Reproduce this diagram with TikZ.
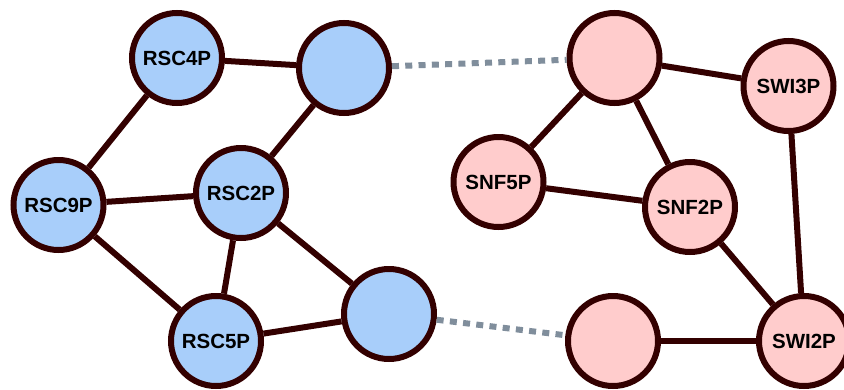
\documentclass[tikz,border=0pt]{standalone}
\usepackage{fontspec}
\setmainfont{Liberation Sans}
\begin{document}
\begin{tikzpicture}[x=1pt,y=-1pt,
  prot/.style={circle,draw=edgecol,line width=6pt,minimum size=90pt,inner sep=0pt,
    font=\fontsize{20.5}{24}\selectfont\bfseries,text=black},
  rsc/.style={prot,fill=rscfill},
  swi/.style={prot,fill=swifill},
  bond/.style={draw=edgecol,line width=6pt},
  link/.style={draw=linkcol,line width=6pt,dash pattern=on 7pt off 6.3pt}]
\definecolor{edgecol}{RGB}{51,0,0}
\definecolor{rscfill}{RGB}{168,206,250}
\definecolor{swifill}{RGB}{255,204,204}
\definecolor{linkcol}{RGB}{128,142,156}
\useasboundingbox (0,0) rectangle (844,389);

% RSC complex
\node[rsc] (rsc4) at (177,58) {RSC4P};
\node[rsc] (rscA) at (344,68) {};
\node[rsc] (rsc9) at (58.5,205) {RSC9P};
\node[rsc] (rsc2) at (241,193) {RSC2P};
\node[rsc] (rsc5) at (216,341) {RSC5P};
\node[rsc] (rscB) at (389,314) {};

% SWI/SNF complex
\node[swi] (swiA) at (614.5,58) {};
\node[swi] (swi3) at (788.5,86) {SWI3P};
\node[swi] (snf5) at (498.5,182) {SNF5P};
\node[swi] (snf2) at (690,207) {SNF2P};
\node[swi] (swiB) at (613,341) {};
\node[swi] (swi2) at (804,341) {SWI2P};

% interactions within complexes
\path[bond] (rsc4) -- (rscA);
\path[bond] (rsc4) -- (rsc9);
\path[bond] (rscA) -- (rsc2);
\path[bond] (rsc9) -- (rsc2);
\path[bond] (rsc9) -- (rsc5);
\path[bond] (rsc2) -- (rsc5);
\path[bond] (rsc2) -- (rscB);
\path[bond] (rsc5) -- (rscB);

\path[bond] (swiA) -- (swi3);
\path[bond] (swiA) -- (snf5);
\path[bond] (swiA) -- (snf2);
\path[bond] (snf5) -- (snf2);
\path[bond] (snf2) -- (swi2);
\path[bond] (swi3) -- (swi2);
\path[bond] (swiB) -- (swi2);

% homologous pairs
\path[link] (rscA) -- (swiA);
\path[link] (rscB) -- (swiB);
\end{tikzpicture}
\end{document}
